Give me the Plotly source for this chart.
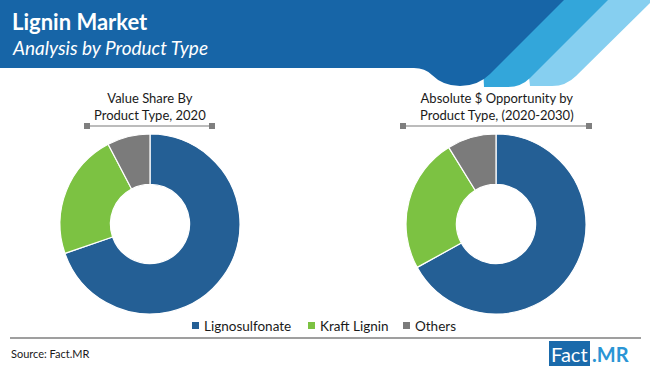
import plotly.graph_objects as go

# ---- data ----
categories = ["Lignosulfonate", "Kraft Lignin", "Others"]
value_share_2020 = [69.7, 22.6, 7.7]
abs_opportunity_2020_2030 = [67.0, 24.2, 8.8]
colors = ["#245f95", "#7cc242", "#7b7b7b"]

chart_titles = ["Value Share By<br>Product Type, 2020",
                "Absolute $ Opportunity by<br>Product Type, (2020-2030)"]
main_title = "Lignin Market"
sub_title = "Analysis by Product Type"
source_text = "Source: Fact.MR"

W, H = 650, 372
FONT = "Lato"

def px(x):
    return x / W

def py(y):
    return 1 - y / H

fig = go.Figure()

# donuts
pie_centers = [(150, 224), (496, 224)]
R = 90
for i, (vals, (cx, cy)) in enumerate(zip([value_share_2020, abs_opportunity_2020_2030], pie_centers)):
    fig.add_trace(go.Pie(
        labels=categories, values=vals, hole=0.44, sort=False,
        direction="clockwise", rotation=0,
        marker=dict(colors=colors, line=dict(color="white", width=1.2)),
        textinfo="none", hoverinfo="label+percent", showlegend=False,
        domain=dict(x=[px(cx - R), px(cx + R)], y=[py(cy + R), py(cy - R)]),
    ))

shapes = []
# header stripes (light, medium, dark)
shapes.append(dict(type="path", xref="x", yref="y", layer="below",
                   path="M 520,0 L 650,0 L 650,3 L 576,76 Q 566,86 552,86 L 530,86 Z",
                   fillcolor="#86cff0", line=dict(width=0)))
shapes.append(dict(type="path", xref="x", yref="y", layer="below",
                   path="M 480,0 L 608,0 L 530,78 Q 521,87 508,87 L 484,87 Z",
                   fillcolor="#33a6da", line=dict(width=0)))
shapes.append(dict(type="path", xref="x", yref="y", layer="below",
                   path="M 0,0 L 564,0 L 490,74 Q 478,86 460,86 Q 443,86 432,75 Q 425,68 414,68 L 0,68 Z",
                   fillcolor="#1765a7", line=dict(width=0)))

# title brackets
for (x0, x1) in [(87, 212), (403, 589)]:
    shapes.append(dict(type="line", xref="x", yref="y", x0=x0, x1=x1, y0=126, y1=126,
                       line=dict(color="#a6a6a6", width=1.5)))
    for xx in (x0, x1):
        shapes.append(dict(type="rect", xref="x", yref="y", x0=xx - 3, x1=xx + 3, y0=123, y1=129,
                           fillcolor="#7f7f7f", line=dict(width=0)))

# bottom rule
shapes.append(dict(type="line", xref="x", yref="y", x0=10, x1=641, y0=338, y1=338,
                   line=dict(color="#404040", width=1.2)))

# logo box
shapes.append(dict(type="rect", xref="x", yref="y", x0=549, x1=590, y0=341, y1=366,
                   fillcolor="#1a6aab", line=dict(width=0)))

annotations = []
annotations.append(dict(text="<b>" + main_title + "</b>", x=px(10), y=py(22), xref="paper", yref="paper",
                        xanchor="left", yanchor="middle", showarrow=False,
                        font=dict(family=FONT, size=22, color="white")))
annotations.append(dict(text="<i>" + sub_title + "</i>", x=px(10), y=py(47), xref="paper", yref="paper",
                        xanchor="left", yanchor="middle", showarrow=False,
                        font=dict(family=FONT, size=19, color="white")))

for t, cx in zip(chart_titles, [150, 497]):
    annotations.append(dict(text=t, x=px(cx), y=py(107), xref="paper", yref="paper",
                            xanchor="center", yanchor="middle", showarrow=False,
                            font=dict(family=FONT, size=13, color="#1a1a1a")))

# legend (manual)
legend_x = [192, 308, 403]
for lab, col, lx in zip(categories, colors, legend_x):
    shapes.append(dict(type="rect", xref="x", yref="y", x0=lx, x1=lx + 7, y0=322, y1=329,
                       fillcolor=col, line=dict(width=0)))
    annotations.append(dict(text=lab, x=px(lx + 10), y=py(325.5), xref="paper", yref="paper",
                            xanchor="left", yanchor="middle", showarrow=False,
                            font=dict(family=FONT, size=13.5, color="#1a1a1a")))

annotations.append(dict(text=source_text, x=px(9), y=py(353), xref="paper", yref="paper",
                        xanchor="left", yanchor="middle", showarrow=False,
                        font=dict(family=FONT, size=11, color="#1a1a1a")))
annotations.append(dict(text="Fact", x=px(569.5), y=py(353.5), xref="paper", yref="paper",
                        xanchor="center", yanchor="middle", showarrow=False,
                        font=dict(family=FONT, size=20, color="white")))
annotations.append(dict(text="<b>.MR</b>", x=px(590), y=py(353.5), xref="paper", yref="paper",
                        xanchor="left", yanchor="middle", showarrow=False,
                        font=dict(family=FONT, size=20, color="#2a95d5")))

fig.update_layout(
    width=W, height=H, margin=dict(l=0, r=0, t=0, b=0),
    paper_bgcolor="white", plot_bgcolor="white",
    xaxis=dict(range=[0, W], visible=False, fixedrange=True, domain=[0, 1]),
    yaxis=dict(range=[H, 0], visible=False, fixedrange=True, domain=[0, 1]),
    shapes=shapes, annotations=annotations, showlegend=False,
)

fig.write_html("out.html", config={"displayModeBar": False},
               post_script="document.body.style.margin='0';document.body.style.overflow='hidden';")
